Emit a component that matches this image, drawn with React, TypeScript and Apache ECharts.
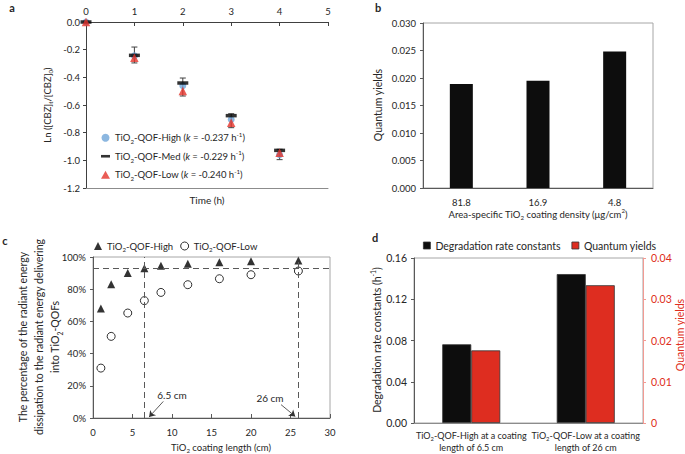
import React, { useEffect, useRef } from "react";
import * as echarts from "echarts";

// ---- Panel a data ----
const times = [0, 1, 2, 3, 4];
const lnHigh = [0, -0.245, -0.46, -0.705, -0.96];
const lnMed = [0, -0.241, -0.441, -0.677, -0.928];
const lnLow = [0, -0.258, -0.499, -0.728, -0.945];
const errTimes = [1, 2, 3, 4];
const errLow = [-0.296, -0.535, -0.764, -0.995];
const errHigh = [-0.181, -0.405, -0.663, -0.92];

// ---- Panel b data ----
const densityCats = ["81.8", "16.9", "4.8"];
const densityQY = [0.0189, 0.0195, 0.0248];

// ---- Panel c data ----
const lengths = [1, 2.3, 4.4, 6.5, 8.6, 12, 16, 20, 26];
const pctHigh = [68, 83, 90, 93, 94.5, 95.8, 96.7, 97.4, 97.9];
const pctLow = [31, 50.7, 65.2, 72.9, 78, 82.8, 86.5, 89, 91.3];
const refPct = 93;
const refLengths = [6.5, 26];

// ---- Panel d data ----
const dCats = [
  "TiO2-QOF-High at a coating length of 6.5 cm",
  "TiO2-QOF-Low at a coating length of 26 cm",
];
const dRate = [0.0763, 0.1444];
const dQY = [0.0176, 0.0334];

const FONT = "Lato, 'Open Sans', sans-serif";
const TXT = "#262626";
const RED = "#de2d20";

const richBase = (fs: number, color = TXT, lh?: number) => {
  const L = lh || fs + 4;
  return {
    n: { fontSize: fs, fontFamily: FONT, color, lineHeight: L },
    i: { fontSize: fs, fontFamily: FONT, color, fontStyle: "italic", lineHeight: L },
    sub: { fontSize: fs * 0.65, fontFamily: FONT, color, lineHeight: fs * 0.65 + (L - fs - 4) / 2, verticalAlign: "bottom" },
    sup: { fontSize: fs * 0.65, fontFamily: FONT, color, lineHeight: fs * 0.65 + (L - fs - 4) / 2, verticalAlign: "top" },
  };
};

const legendA: Record<string, string> = {
  aHigh: "{n|TiO}{sub|2}{n|-QOF-High (}{i|k}{n| = -0.237 h}{sup|-1}{n|)}",
  aMed: "{n|TiO}{sub|2}{n|-QOF-Med (}{i|k}{n| = -0.229 h}{sup|-1}{n|)}",
  aLow: "{n|TiO}{sub|2}{n|-QOF-Low (}{i|k}{n| = -0.240 h}{sup|-1}{n|)}",
  cHigh: "{n|TiO}{sub|2}{n|-QOF-High}",
  cLow: "{n|TiO}{sub|2}{n|-QOF-Low}",
  dRate: "{n|Degradation rate constants}",
  dQY: "{n|Quantum yields}",
};

const dLabels: Record<string, string> = {
  [dCats[0]]: "{n|TiO}{sub|2}{n|-QOF-High at a coating}\n{n|length of 6.5 cm}",
  [dCats[1]]: "{n|TiO}{sub|2}{n|-QOF-Low at a coating}\n{n|length of 26 cm}",
};

const axisLine = (color = "#595959") => ({ show: true, lineStyle: { color, width: 1 } });
const label = (extra: any = {}) => ({ fontFamily: FONT, fontSize: 9.5, color: TXT, ...extra });

function txt(x: number, y: number, text: string, opts: any = {}) {
  return {
    type: "text",
    x,
    y,
    rotation: opts.rotation || 0,
    silent: true,
    style: {
      text,
      fontFamily: FONT,
      fontSize: opts.fontSize || 10,
      fontWeight: opts.bold ? "bold" : "normal",
      fill: opts.color || TXT,
      align: opts.align || "center",
      verticalAlign: "middle",
      lineHeight: opts.lineHeight,
      rich: opts.rich,
    },
  };
}

export default function App() {
  const ref = useRef<HTMLDivElement>(null);
  useEffect(() => {
    if (!ref.current) return;
    const chart = echarts.init(ref.current, undefined, { renderer: "svg" });
    const errStyle = { stroke: "#404040", lineWidth: 1 };
    const option: any = {
      animation: false,
      backgroundColor: "#fff",
      grid: [
        { left: 86, top: 22, width: 242, height: 166 },
        { left: 423, top: 23, width: 230, height: 165, show: true, borderColor: "#a6a6a6", backgroundColor: "transparent" },
        { left: 93, top: 257, width: 237, height: 161, show: true, borderColor: "#a6a6a6", backgroundColor: "transparent" },
        { left: 414, top: 258, width: 229, height: 165, show: true, borderColor: "#a6a6a6", backgroundColor: "transparent" },
      ],
      xAxis: [
        {
          gridIndex: 0, type: "value", position: "top", min: 0, max: 5, interval: 1,
          axisLine: axisLine("#404040"), axisTick: { inside: true, length: 4, lineStyle: { color: "#404040" } },
          axisLabel: label({ margin: 6 }), splitLine: { show: false },
        },
        {
          gridIndex: 0, type: "value", position: "bottom", min: 0, max: 5, interval: 1,
          axisLine: axisLine("#8c8c8c"), axisTick: { show: false }, axisLabel: { show: false }, splitLine: { show: false },
        },
        {
          gridIndex: 1, type: "category", data: densityCats,
          axisLine: axisLine(), axisTick: { inside: true, length: 4, lineStyle: { color: "#595959" } },
          axisLabel: label({ margin: 9 }),
        },
        {
          gridIndex: 2, type: "value", min: 0, max: 30, interval: 5,
          axisLine: axisLine(), axisTick: { inside: true, length: 4, lineStyle: { color: "#595959" } },
          axisLabel: label({ margin: 9 }), splitLine: { show: false },
        },
        {
          gridIndex: 3, type: "category", data: dCats,
          axisLine: axisLine("#8c8c8c"), axisTick: { inside: true, length: 4, lineStyle: { color: "#8c8c8c" } },
          axisLabel: label({ interval: 0, margin: 7, formatter: (v: string) => dLabels[v] || v, rich: richBase(9, TXT, 11.5) }),
        },
      ],
      yAxis: [
        {
          gridIndex: 0, type: "value", min: -1.2, max: 0, interval: 0.2,
          axisLine: axisLine("#404040"), axisTick: { show: true, length: 3, lineStyle: { color: "#404040" } },
          axisLabel: label({ margin: 6, formatter: (v: number) => v.toFixed(1) }), splitLine: { show: false },
        },
        {
          gridIndex: 1, type: "value", min: 0, max: 0.03, interval: 0.005,
          axisLine: axisLine(), axisTick: { show: true, length: 3, lineStyle: { color: "#595959" } },
          axisLabel: label({ margin: 7, formatter: (v: number) => v.toFixed(3) }), splitLine: { show: false },
        },
        {
          gridIndex: 2, type: "value", min: 0, max: 100, interval: 20,
          axisLine: axisLine(), axisTick: { show: true, length: 3, lineStyle: { color: "#595959" } },
          axisLabel: label({ margin: 7, formatter: "{value}%" }), splitLine: { show: false },
        },
        {
          gridIndex: 3, type: "value", min: 0, max: 0.16, interval: 0.04,
          axisLine: axisLine(), axisTick: { show: true, length: 3, lineStyle: { color: "#595959" } },
          axisLabel: label({ margin: 7, fontSize: 10.5, formatter: (v: number) => v.toFixed(2) }), splitLine: { show: false },
        },
        {
          gridIndex: 3, type: "value", position: "right", min: 0, max: 0.04, interval: 0.01,
          axisLine: axisLine("#f29a93"), axisTick: { show: true, length: 3, lineStyle: { color: "#f29a93" } },
          axisLabel: label({ margin: 8, fontSize: 10.5, color: RED, formatter: (v: number) => (v === 0 ? "0" : v.toFixed(2)) }),
          splitLine: { show: false },
        },
      ],
      legend: [
        {
          data: [
            { name: "aHigh", icon: "circle" },
            { name: "aMed", icon: "path://M0,0 L12,0 L12,3.5 L0,3.5 Z" },
            { name: "aLow", icon: "triangle" },
          ],
          orient: "vertical", left: 96, top: 126, itemWidth: 9, itemHeight: 8, itemGap: 5,
          formatter: (n: string) => legendA[n], textStyle: { rich: richBase(9.5) },
          selectedMode: false,
        },
        {
          data: [
            { name: "cHigh", icon: "triangle" },
            { name: "cLow", icon: "circle", itemStyle: { color: "#fff", borderColor: "#000", borderWidth: 1 } },
          ],
          orient: "horizontal", left: 89, top: 236, itemWidth: 8, itemHeight: 8, itemGap: 7,
          formatter: (n: string) => legendA[n], textStyle: { rich: richBase(9.5) },
          selectedMode: false,
        },
        {
          data: [
            { name: "dRate", icon: "rect", itemStyle: { borderColor: "#333", borderWidth: 0.8 } },
            { name: "dQY", icon: "rect", itemStyle: { borderColor: "#333", borderWidth: 0.8 } },
          ],
          orient: "horizontal", left: 418, top: 235, itemWidth: 7, itemHeight: 7, itemGap: 11,
          formatter: (n: string) => legendA[n], textStyle: { rich: richBase(10.5) },
          selectedMode: false,
        },
      ],
      series: [
        {
          type: "custom", name: "aErr", xAxisIndex: 0, yAxisIndex: 0,
          data: errTimes.map((t, i) => [t, errLow[i], errHigh[i]]),
          encode: { x: 0, y: [1, 2] }, silent: true, z: 1,
          renderItem: (_p: any, api: any) => {
            const x = api.value(0);
            const lo = api.coord([x, api.value(1)]);
            const hi = api.coord([x, api.value(2)]);
            const w = 3;
            return {
              type: "group",
              children: [
                { type: "line", shape: { x1: lo[0], y1: lo[1], x2: hi[0], y2: hi[1] }, style: errStyle },
                { type: "line", shape: { x1: lo[0] - w, y1: lo[1], x2: lo[0] + w, y2: lo[1] }, style: errStyle },
                { type: "line", shape: { x1: hi[0] - w, y1: hi[1], x2: hi[0] + w, y2: hi[1] }, style: errStyle },
              ],
            };
          },
        },
        {
          type: "scatter", name: "aHigh", xAxisIndex: 0, yAxisIndex: 0, z: 2,
          data: times.map((t, i) => [t, lnHigh[i]]), symbol: "circle", symbolSize: 7,
          itemStyle: { color: "#6fa5d8" },
        },
        {
          type: "scatter", name: "aMed", xAxisIndex: 0, yAxisIndex: 0, z: 3,
          data: times.map((t, i) => [t, lnMed[i]]), symbol: "rect", symbolSize: [11, 3.5],
          itemStyle: { color: "#000" },
        },
        {
          type: "scatter", name: "aLow", xAxisIndex: 0, yAxisIndex: 0, z: 4,
          data: times.map((t, i) => [t, lnLow[i]]), symbol: "triangle", symbolSize: 8.5,
          itemStyle: { color: "#e5332a" },
        },
        {
          type: "bar", name: "bQY", xAxisIndex: 2, yAxisIndex: 1, data: densityQY, barWidth: 23,
          itemStyle: { color: "#0d0d0d" },
        },
        {
          type: "scatter", name: "cHigh", xAxisIndex: 3, yAxisIndex: 2, z: 3,
          data: lengths.map((l, i) => [l, pctHigh[i]]), symbol: "triangle", symbolSize: 8,
          itemStyle: { color: "#000" },
          markLine: {
            silent: true, symbol: ["none", "none"], label: { show: false },
            lineStyle: { type: [6, 4], color: "#595959", width: 1 },
            data: [{ yAxis: refPct }, ...refLengths.map((l) => ({ xAxis: l }))],
          },
        },
        {
          type: "scatter", name: "cLow", xAxisIndex: 3, yAxisIndex: 2, z: 3,
          data: lengths.map((l, i) => [l, pctLow[i]]), symbol: "circle", symbolSize: 8,
          itemStyle: { color: "#fff", borderColor: "#000", borderWidth: 1 },
          markLine: {
            silent: true, symbol: ["none", "arrow"], symbolSize: 6, label: { show: false },
            lineStyle: { type: "solid", color: "#333", width: 0.8 },
            data: [
              [{ coord: [8.9, 10.3] }, { coord: [7.1, 0.6] }],
              [{ coord: [23.8, 8.3] }, { coord: [25.6, 1.0] }],
            ],
          },
        },
        {
          type: "bar", name: "dRate", xAxisIndex: 4, yAxisIndex: 3, data: dRate, barWidth: 29, barGap: "0%",
          itemStyle: { color: "#0d0d0d", borderColor: "#333", borderWidth: 0.8 },
        },
        {
          type: "bar", name: "dQY", xAxisIndex: 4, yAxisIndex: 4, data: dQY, barWidth: 29, barGap: "0%",
          itemStyle: { color: RED, borderColor: "#333", borderWidth: 0.8 },
        },
      ],
      graphic: [
        txt(12, 7, "a", { bold: true, fontSize: 11 }),
        txt(378, 7, "b", { bold: true, fontSize: 11 }),
        txt(5, 240, "c", { bold: true, fontSize: 11 }),
        txt(375, 237, "d", { bold: true, fontSize: 11 }),
        txt(47, 105, "{n|Ln ([CBZ]}{sub|t}{n|/[CBZ]}{sub|0}{n|)}", { rotation: Math.PI / 2, rich: richBase(9.5) }),
        txt(207, 200, "Time (h)"),
        txt(378, 105, "Quantum yields", { rotation: Math.PI / 2, fontSize: 10.5 }),
        txt(538, 214, "{n|Area-specific TiO}{sub|2}{n| coating density (μg/cm}{sup|2}{n|)}", { rich: richBase(9.5) }),
        txt(
          39,
          337,
          "{n|The percentage of the radiant energy}\n{n|dissipation to the radiant energy delivering}\n{n|into TiO}{sub|2}{n|-QOFs}",
          { rotation: Math.PI / 2, rich: richBase(10.5, TXT, 16) }
        ),
        txt(221, 447, "{n|TiO}{sub|2}{n| coating length (cm)}", { rich: richBase(9.5) }),
        txt(172, 395, "6.5 cm"),
        txt(270, 398, "26 cm"),
        txt(377, 340, "{n|Degradation rate constants (h}{sup|-1}{n|)}", { rotation: Math.PI / 2, rich: richBase(10.5) }),
        txt(680, 335, "Quantum yields", { rotation: Math.PI / 2, color: RED, fontSize: 10.5 }),
      ],
    };
    chart.setOption(option);
    return () => chart.dispose();
  }, []);
  return <div ref={ref} style={{ position: "absolute", left: 0, top: 0, width: 685, height: 454 }} />;
}
